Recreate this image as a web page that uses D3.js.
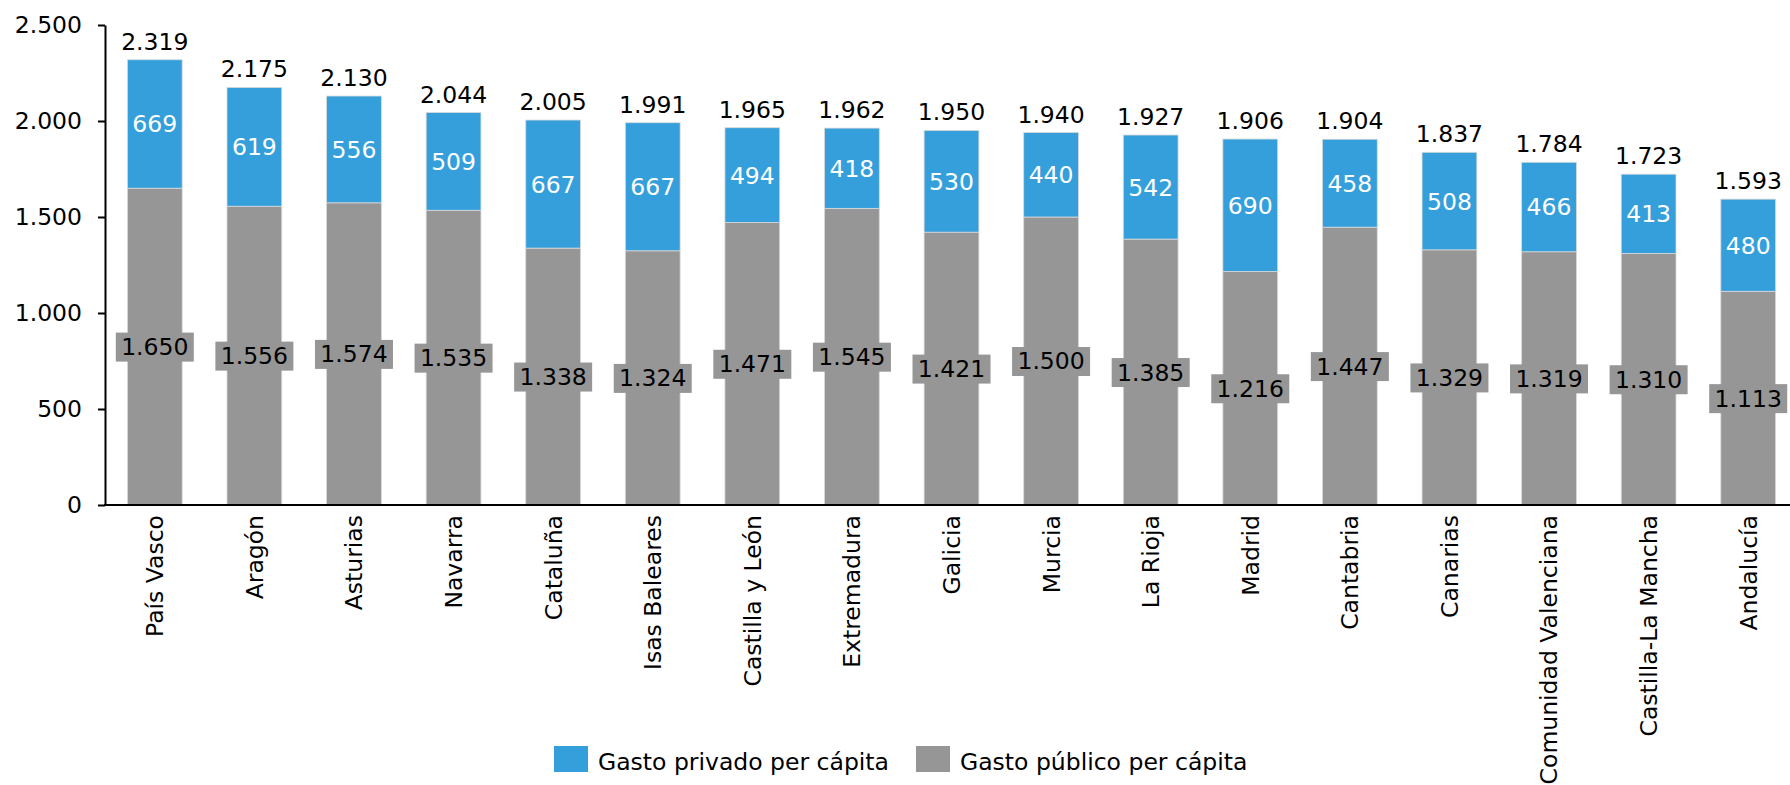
<!DOCTYPE html>
<html>
<head>
<meta charset="utf-8">
<script src="https://cdn.jsdelivr.net/npm/d3@7"></script>
<style>
  body { margin: 0; background: #fff; }
  text { font-family: "DejaVu Sans", Verdana, sans-serif; }
</style>
</head>
<body>
<script>
// data
var regions = ["País Vasco", "Aragón", "Asturias", "Navarra", "Cataluña", "Isas Baleares",
  "Castilla y León", "Extremadura", "Galicia", "Murcia", "La Rioja", "Madrid", "Cantabria",
  "Canarias", "Comunidad Valenciana", "Castilla-La Mancha", "Andalucía"];
var gastoPublico = [1650, 1556, 1574, 1535, 1338, 1324, 1471, 1545, 1421, 1500, 1385, 1216, 1447, 1329, 1319, 1310, 1113];
var gastoPrivado = [669, 619, 556, 509, 667, 667, 494, 418, 530, 440, 542, 690, 458, 508, 466, 413, 480];
var totales = [2319, 2175, 2130, 2044, 2005, 1991, 1965, 1962, 1950, 1940, 1927, 1906, 1904, 1837, 1784, 1723, 1593];
var yTicks = [0, 500, 1000, 1500, 2000, 2500];
var seriesNames = ["Gasto privado per cápita", "Gasto público per cápita"];

var width = 1790, height = 785;
var colorPrivado = "#359fdb", colorPublico = "#969696";
var fs = 23.5;

var locale = d3.formatLocale({decimal: ",", thousands: ".", grouping: [3], currency: ["", "€"]});
var fmt = locale.format(",d");

var svg = d3.select("body").append("svg")
    .attr("width", width)
    .attr("height", height);

var x = d3.scaleBand()
    .domain(regions)
    .range([105, 1798])
    .paddingInner(0.45)
    .paddingOuter(0.225);

var y = d3.scaleLinear()
    .domain([0, 2500])
    .range([505, 25]);

var rows = regions.map(function(r, i) {
  return {name: r, pub: gastoPublico[i], priv: gastoPrivado[i], total: totales[i]};
});

// bars
var g = svg.append("g");
var bar = g.selectAll(".bar")
  .data(rows)
  .enter().append("g")
    .attr("class", "bar");

bar.append("rect")
    .attr("x", function(d) { return x(d.name); })
    .attr("width", x.bandwidth())
    .attr("y", function(d) { return y(d.pub); })
    .attr("height", function(d) { return y(0) - y(d.pub); })
    .style("fill", colorPublico)
    .style("stroke", "#d9d9d9")
    .style("stroke-width", 0.8);

bar.append("rect")
    .attr("x", function(d) { return x(d.name); })
    .attr("width", x.bandwidth())
    .attr("y", function(d) { return y(d.pub + d.priv); })
    .attr("height", function(d) { return y(d.pub) - y(d.pub + d.priv); })
    .style("fill", colorPrivado)
    .style("stroke", "#d9d9d9")
    .style("stroke-width", 0.8);

// gray labels with box
var pubLab = bar.append("g")
    .attr("transform", function(d) {
      return "translate(" + (x(d.name) + x.bandwidth() / 2) + "," + y(d.pub / 2) + ")"; });
pubLab.append("rect")
    .attr("x", -39)
    .attr("y", -14)
    .attr("width", 78)
    .attr("height", 29)
    .style("fill", colorPublico);
pubLab.append("text")
    .attr("text-anchor", "middle")
    .attr("dy", "0.36em")
    .style("font-size", fs + "px")
    .style("fill", "#000")
    .text(function(d) { return fmt(d.pub); });

// blue labels
bar.append("text")
    .attr("x", function(d) { return x(d.name) + x.bandwidth() / 2; })
    .attr("y", function(d) { return y(d.pub + d.priv / 2); })
    .attr("text-anchor", "middle")
    .attr("dy", "0.36em")
    .style("font-size", fs + "px")
    .style("fill", "#fff")
    .text(function(d) { return fmt(d.priv); });

// totals
bar.append("text")
    .attr("x", function(d) { return x(d.name) + x.bandwidth() / 2; })
    .attr("y", function(d) { return y(d.pub + d.priv) - 10; })
    .attr("text-anchor", "middle")
    .style("font-size", fs + "px")
    .style("fill", "#000")
    .text(function(d) { return fmt(d.total); });

// y axis
var yAxis = svg.append("g")
    .attr("transform", "translate(105,0)")
    .call(d3.axisLeft(y).tickValues(yTicks).tickFormat(fmt).tickSize(7).tickSizeOuter(0));
yAxis.select(".domain").style("stroke", "#000").style("stroke-width", 2);
yAxis.selectAll(".tick line").style("stroke", "#000").style("stroke-width", 2);
yAxis.selectAll(".tick text")
    .attr("x", -23)
    .style("font-size", fs + "px")
    .style("font-family", "'DejaVu Sans', Verdana, sans-serif")
    .style("fill", "#000");

// x axis
var xAxis = svg.append("g")
    .attr("transform", "translate(0," + y(0) + ")")
    .call(d3.axisBottom(x).tickSize(0).tickSizeOuter(0));
xAxis.select(".domain").style("stroke", "#000").style("stroke-width", 2)
    .attr("d", "M104,0H1790");
xAxis.selectAll(".tick text")
    .attr("transform", "rotate(-90)")
    .attr("x", -10)
    .attr("y", 0)
    .attr("dy", "0.36em")
    .attr("text-anchor", "end")
    .style("font-size", fs + "px")
    .style("font-family", "'DejaVu Sans', Verdana, sans-serif")
    .style("fill", "#000");

// legend
var legend = svg.append("g").attr("transform", "translate(554,746)");
var legItems = [
  {name: seriesNames[0], color: colorPrivado, x: 0},
  {name: seriesNames[1], color: colorPublico, x: 362}
];
var li = legend.selectAll(".leg")
  .data(legItems)
  .enter().append("g")
    .attr("transform", function(d) { return "translate(" + d.x + ",0)"; });
li.append("rect")
    .attr("width", 34)
    .attr("height", 26)
    .style("fill", function(d) { return d.color; });
li.append("text")
    .attr("x", 44)
    .attr("y", 24)
    .style("font-size", fs + "px")
    .text(function(d) { return d.name; });
</script>
</body>
</html>
